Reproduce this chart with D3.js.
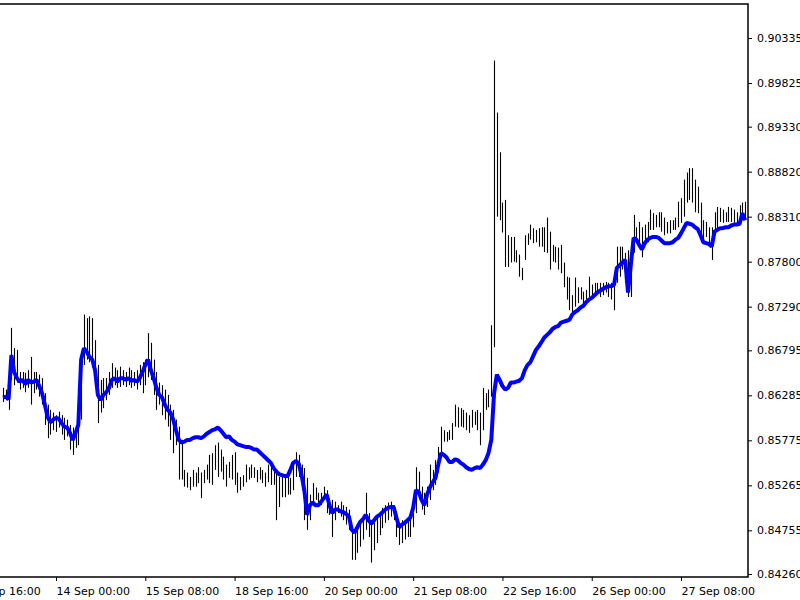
<!DOCTYPE html>
<html>
<head>
<meta charset="utf-8">
<script src="https://cdn.jsdelivr.net/npm/d3@7"></script>
<style>
  body { margin: 0; background: #fff; }
  text { font-family: "DejaVu Sans", sans-serif; font-size: 11px; }
</style>
</head>
<body>
<svg id="chart" width="800" height="600"></svg>
<script>
// hourly bars, high / low, plus the blue average line
var highs = [
0.8637,0.8635,0.8640,0.8705,0.8682,0.8680,0.8655,0.8655,0.8654,0.8657,
0.8672,0.8655,0.8655,0.8652,0.8648,0.8631,0.8618,0.8612,0.8609,0.8606,
0.8610,0.8606,0.8603,0.8601,0.8595,0.8592,0.8595,0.8612,0.8674,0.8720,
0.8716,0.8718,0.8716,0.8691,0.8663,0.8646,0.8648,0.8648,0.8655,0.8665,
0.8660,0.8657,0.8661,0.8657,0.8655,0.8660,0.8657,0.8655,0.8657,0.8663,
0.8666,0.8669,0.8699,0.8688,0.8669,0.8655,0.8643,0.8640,0.8635,0.8629,
0.8618,0.8612,0.8601,0.8593,0.8578,0.8544,0.8541,0.8536,0.8544,0.8541,
0.8547,0.8541,0.8544,0.8550,0.8561,0.8563,0.8572,0.8575,0.8567,0.8559,
0.8550,0.8553,0.8561,0.8564,0.8541,0.8536,0.8538,0.8550,0.8547,0.8550,
0.8547,0.8544,0.8547,0.8544,0.8541,0.8550,0.8547,0.8542,0.8541,0.8536,
0.8536,0.8535,0.8536,0.8535,0.8552,0.8564,0.8561,0.8550,0.8546,0.8535,
0.8516,0.8529,0.8524,0.8518,0.8518,0.8525,0.8521,0.8510,0.8510,0.8508,
0.8504,0.8508,0.8504,0.8502,0.8499,0.8479,0.8476,0.8479,0.8484,0.8487,
0.8518,0.8495,0.8487,0.8484,0.8491,0.8496,0.8501,0.8504,0.8507,0.8508,
0.8504,0.8495,0.8484,0.8487,0.8484,0.8487,0.8490,0.8495,0.8547,0.8542,
0.8525,0.8518,0.8525,0.8550,0.8544,0.8555,0.8570,0.8593,0.8589,0.8587,
0.8589,0.8597,0.8618,0.8615,0.8614,0.8612,0.8609,0.8606,0.8612,0.8610,
0.8612,0.8609,0.8637,0.8631,0.8635,0.8708,0.9008,0.8949,0.8904,0.8847,
0.8850,0.8810,0.8808,0.8808,0.8793,0.8788,0.8773,0.8810,0.8812,0.8822,
0.8818,0.8816,0.8818,0.8819,0.8819,0.8830,0.8814,0.8799,0.8797,0.8796,
0.8799,0.8779,0.8763,0.8762,0.8742,0.8762,0.8751,0.8751,0.8746,0.8748,
0.8763,0.8754,0.8756,0.8756,0.8756,0.8756,0.8757,0.8756,0.8756,0.8756,
0.8797,0.8797,0.8797,0.8790,0.8793,0.8793,0.8833,0.8819,0.8825,0.8819,
0.8822,0.8825,0.8839,0.8835,0.8833,0.8836,0.8836,0.8830,0.8825,0.8827,
0.8827,0.8830,0.8848,0.8852,0.8873,0.8881,0.8886,0.8886,0.8873,0.8865,
0.8847,0.8827,0.8825,0.8819,0.8819,0.8836,0.8842,0.8841,0.8839,0.8836,
0.8842,0.8841,0.8839,0.8836,0.8844,0.8847,0.8848
];
var lows = [
0.8621,0.8623,0.8612,0.8646,0.8640,0.8643,0.8635,0.8637,0.8632,0.8637,
0.8618,0.8631,0.8635,0.8627,0.8618,0.8595,0.8580,0.8584,0.8589,0.8587,
0.8592,0.8584,0.8578,0.8582,0.8567,0.8561,0.8569,0.8572,0.8601,0.8663,
0.8669,0.8666,0.8660,0.8640,0.8597,0.8609,0.8614,0.8623,0.8629,0.8637,
0.8640,0.8637,0.8638,0.8640,0.8638,0.8640,0.8637,0.8639,0.8635,0.8640,
0.8631,0.8640,0.8649,0.8646,0.8629,0.8612,0.8618,0.8606,0.8601,0.8593,
0.8578,0.8563,0.8572,0.8533,0.8533,0.8525,0.8524,0.8521,0.8525,0.8525,
0.8529,0.8512,0.8529,0.8533,0.8529,0.8527,0.8544,0.8536,0.8542,0.8533,
0.8525,0.8535,0.8533,0.8527,0.8518,0.8521,0.8525,0.8530,0.8533,0.8535,
0.8535,0.8530,0.8533,0.8529,0.8525,0.8530,0.8527,0.8527,0.8487,0.8502,
0.8513,0.8513,0.8516,0.8516,0.8521,0.8536,0.8536,0.8521,0.8487,0.8476,
0.8487,0.8507,0.8510,0.8502,0.8504,0.8510,0.8495,0.8493,0.8468,0.8487,
0.8495,0.8491,0.8487,0.8482,0.8476,0.8442,0.8442,0.8450,0.8457,0.8465,
0.8476,0.8468,0.8439,0.8453,0.8461,0.8470,0.8478,0.8484,0.8487,0.8491,
0.8487,0.8468,0.8459,0.8461,0.8465,0.8468,0.8468,0.8479,0.8495,0.8516,
0.8499,0.8493,0.8502,0.8510,0.8521,0.8527,0.8541,0.8563,0.8576,0.8576,
0.8578,0.8578,0.8593,0.8592,0.8593,0.8592,0.8589,0.8586,0.8592,0.8595,
0.8589,0.8572,0.8589,0.8612,0.8615,0.8627,0.8683,0.8831,0.8827,0.8813,
0.8774,0.8774,0.8779,0.8780,0.8779,0.8763,0.8759,0.8782,0.8799,0.8805,
0.8801,0.8802,0.8797,0.8797,0.8791,0.8790,0.8771,0.8780,0.8779,0.8771,
0.8767,0.8751,0.8737,0.8725,0.8723,0.8729,0.8733,0.8737,0.8731,0.8737,
0.8740,0.8740,0.8745,0.8746,0.8740,0.8742,0.8745,0.8740,0.8737,0.8725,
0.8756,0.8763,0.8771,0.8756,0.8740,0.8740,0.8790,0.8801,0.8797,0.8785,
0.8799,0.8802,0.8816,0.8816,0.8819,0.8819,0.8814,0.8810,0.8812,0.8812,
0.8816,0.8816,0.8819,0.8824,0.8831,0.8847,0.8850,0.8847,0.8836,0.8835,
0.8808,0.8802,0.8808,0.8797,0.8782,0.8814,0.8818,0.8825,0.8824,0.8825,
0.8825,0.8825,0.8824,0.8822,0.8827,0.8831,0.8827
];
var avgLine = [
0.8626,0.8627,0.8624,0.8674,0.8655,0.8648,0.8644,0.8646,0.8641,0.8646,
0.8643,0.8644,0.8646,0.8639,0.8631,0.8618,0.8604,0.8598,0.8601,0.8603,
0.8602,0.8597,0.8593,0.8592,0.8586,0.8578,0.8586,0.8595,0.8669,0.8682,
0.8678,0.8672,0.8669,0.8657,0.8629,0.8623,0.8629,0.8632,0.8637,0.8646,
0.8648,0.8644,0.8648,0.8648,0.8646,0.8648,0.8645,0.8646,0.8644,0.8648,
0.8655,0.8663,0.8669,0.8657,0.8648,0.8637,0.8629,0.8626,0.8618,0.8612,
0.8609,0.8601,0.8589,0.8578,0.8575,0.8576,0.8578,0.8578,0.8580,0.8581,
0.8581,0.8580,0.8582,0.8585,0.8587,0.8589,0.8590,0.8592,0.8589,0.8585,
0.8581,0.8582,0.8578,0.8576,0.8573,0.8572,0.8571,0.8570,0.8570,0.8569,
0.8567,0.8567,0.8564,0.8561,0.8558,0.8555,0.8552,0.8546,0.8542,0.8539,
0.8538,0.8537,0.8537,0.8544,0.8552,0.8554,0.8551,0.8538,0.8521,0.8493,
0.8504,0.8507,0.8504,0.8504,0.8508,0.8512,0.8516,0.8504,0.8495,0.8499,
0.8499,0.8497,0.8496,0.8494,0.8491,0.8476,0.8473,0.8479,0.8485,0.8488,
0.8493,0.8487,0.8483,0.8487,0.8491,0.8493,0.8496,0.8499,0.8501,0.8502,
0.8502,0.8490,0.8479,0.8482,0.8484,0.8487,0.8490,0.8501,0.8521,0.8519,
0.8510,0.8504,0.8516,0.8524,0.8530,0.8535,0.8550,0.8563,0.8561,0.8558,
0.8553,0.8553,0.8556,0.8555,0.8552,0.8550,0.8547,0.8545,0.8544,0.8546,
0.8547,0.8546,0.8550,0.8555,0.8563,0.8578,0.8631,0.8652,0.8646,0.8639,
0.8635,0.8637,0.8643,0.8643,0.8644,0.8645,0.8648,0.8657,0.8663,0.8666,
0.8673,0.8680,0.8684,0.8689,0.8694,0.8697,0.8700,0.8704,0.8706,0.8707,
0.8711,0.8712,0.8713,0.8714,0.8720,0.8723,0.8725,0.8728,0.8730,0.8734,
0.8737,0.8739,0.8742,0.8745,0.8747,0.8749,0.8751,0.8752,0.8752,0.8754,
0.8773,0.8776,0.8779,0.8782,0.8745,0.8776,0.8807,0.8805,0.8799,0.8794,
0.8801,0.8805,0.8807,0.8808,0.8808,0.8807,0.8804,0.8801,0.8801,0.8801,
0.8802,0.8805,0.8807,0.8812,0.8818,0.8824,0.8823,0.8822,0.8819,0.8817,
0.8810,0.8802,0.8801,0.8800,0.8797,0.8814,0.8816,0.8818,0.8818,0.8819,
0.8819,0.8821,0.8822,0.8822,0.8823,0.8835,0.8827
];

// bar index of each time label (every 32 bars)
var timeTickIndex = [-13, 19, 51, 83, 115, 147, 179, 211, 243];
var timeTickLabels = ["13 Sep 16:00", "14 Sep 00:00", "15 Sep 08:00", "18 Sep 16:00",
    "20 Sep 00:00", "21 Sep 08:00", "22 Sep 16:00", "26 Sep 00:00", "27 Sep 08:00"];
var priceTicks = [0.84260, 0.84755, 0.85265, 0.85775, 0.86285, 0.86795, 0.87290,
    0.87800, 0.88310, 0.88820, 0.89330, 0.89825, 0.90335];

var svg = d3.select("#chart");
var plot = {left: -2, right: 748, top: 4, bottom: 577};

var x = d3.scaleLinear().domain([0, highs.length - 1]).range([3, 745.2]);
var y = d3.scaleLinear().domain([0.8426, 0.90335]).range([574, 38]);

svg.append("defs").append("clipPath").attr("id", "clip")
    .append("rect")
    .attr("x", plot.left).attr("y", plot.top)
    .attr("width", plot.right - plot.left).attr("height", plot.bottom - plot.top);

var g = svg.append("g").attr("clip-path", "url(#clip)");

// high-low bars
g.append("g").selectAll("line")
    .data(highs)
    .enter().append("line")
    .attr("x1", function(d, i) { return Math.round(x(i)) + 0.5; })
    .attr("x2", function(d, i) { return Math.round(x(i)) + 0.5; })
    .attr("y1", function(d) { return y(d); })
    .attr("y2", function(d, i) { return y(lows[i]); })
    .attr("stroke", "#000")
    .attr("stroke-width", 1.1);

// blue line
var line = d3.line()
    .x(function(d, i) { return x(i); })
    .y(function(d) { return y(d); });

g.append("path")
    .datum(avgLine)
    .attr("d", line)
    .attr("fill", "none")
    .attr("stroke", "#0000ff")
    .attr("stroke-width", 4)
    .attr("stroke-linejoin", "bevel");

// frame
svg.append("path")
    .attr("d", "M" + plot.left + "," + plot.top + "H" + plot.right + "V" + plot.bottom + "H" + plot.left)
    .attr("fill", "none")
    .attr("stroke", "#000")
    .attr("stroke-width", 1.5);

// price axis on the right
var yAxis = svg.append("g")
    .attr("transform", "translate(" + plot.right + ",0)")
    .call(d3.axisRight(y).tickValues(priceTicks).tickFormat(d3.format(".5f"))
        .tickSize(4).tickPadding(5));
yAxis.select(".domain").remove();
yAxis.selectAll("text").style("font-family", "DejaVu Sans").style("font-size", "11px").attr("fill", "#000");

// time axis
var xAxis = svg.append("g")
    .attr("transform", "translate(0," + plot.bottom + ")")
    .call(d3.axisBottom(x).tickValues(timeTickIndex)
        .tickFormat(function(d, i) { return timeTickLabels[i]; })
        .tickSize(4).tickPadding(6));
xAxis.select(".domain").remove();
xAxis.selectAll("text").attr("text-anchor", "start")
    .style("font-family", "DejaVu Sans").style("font-size", "11px").attr("fill", "#000");
</script>
</body>
</html>
